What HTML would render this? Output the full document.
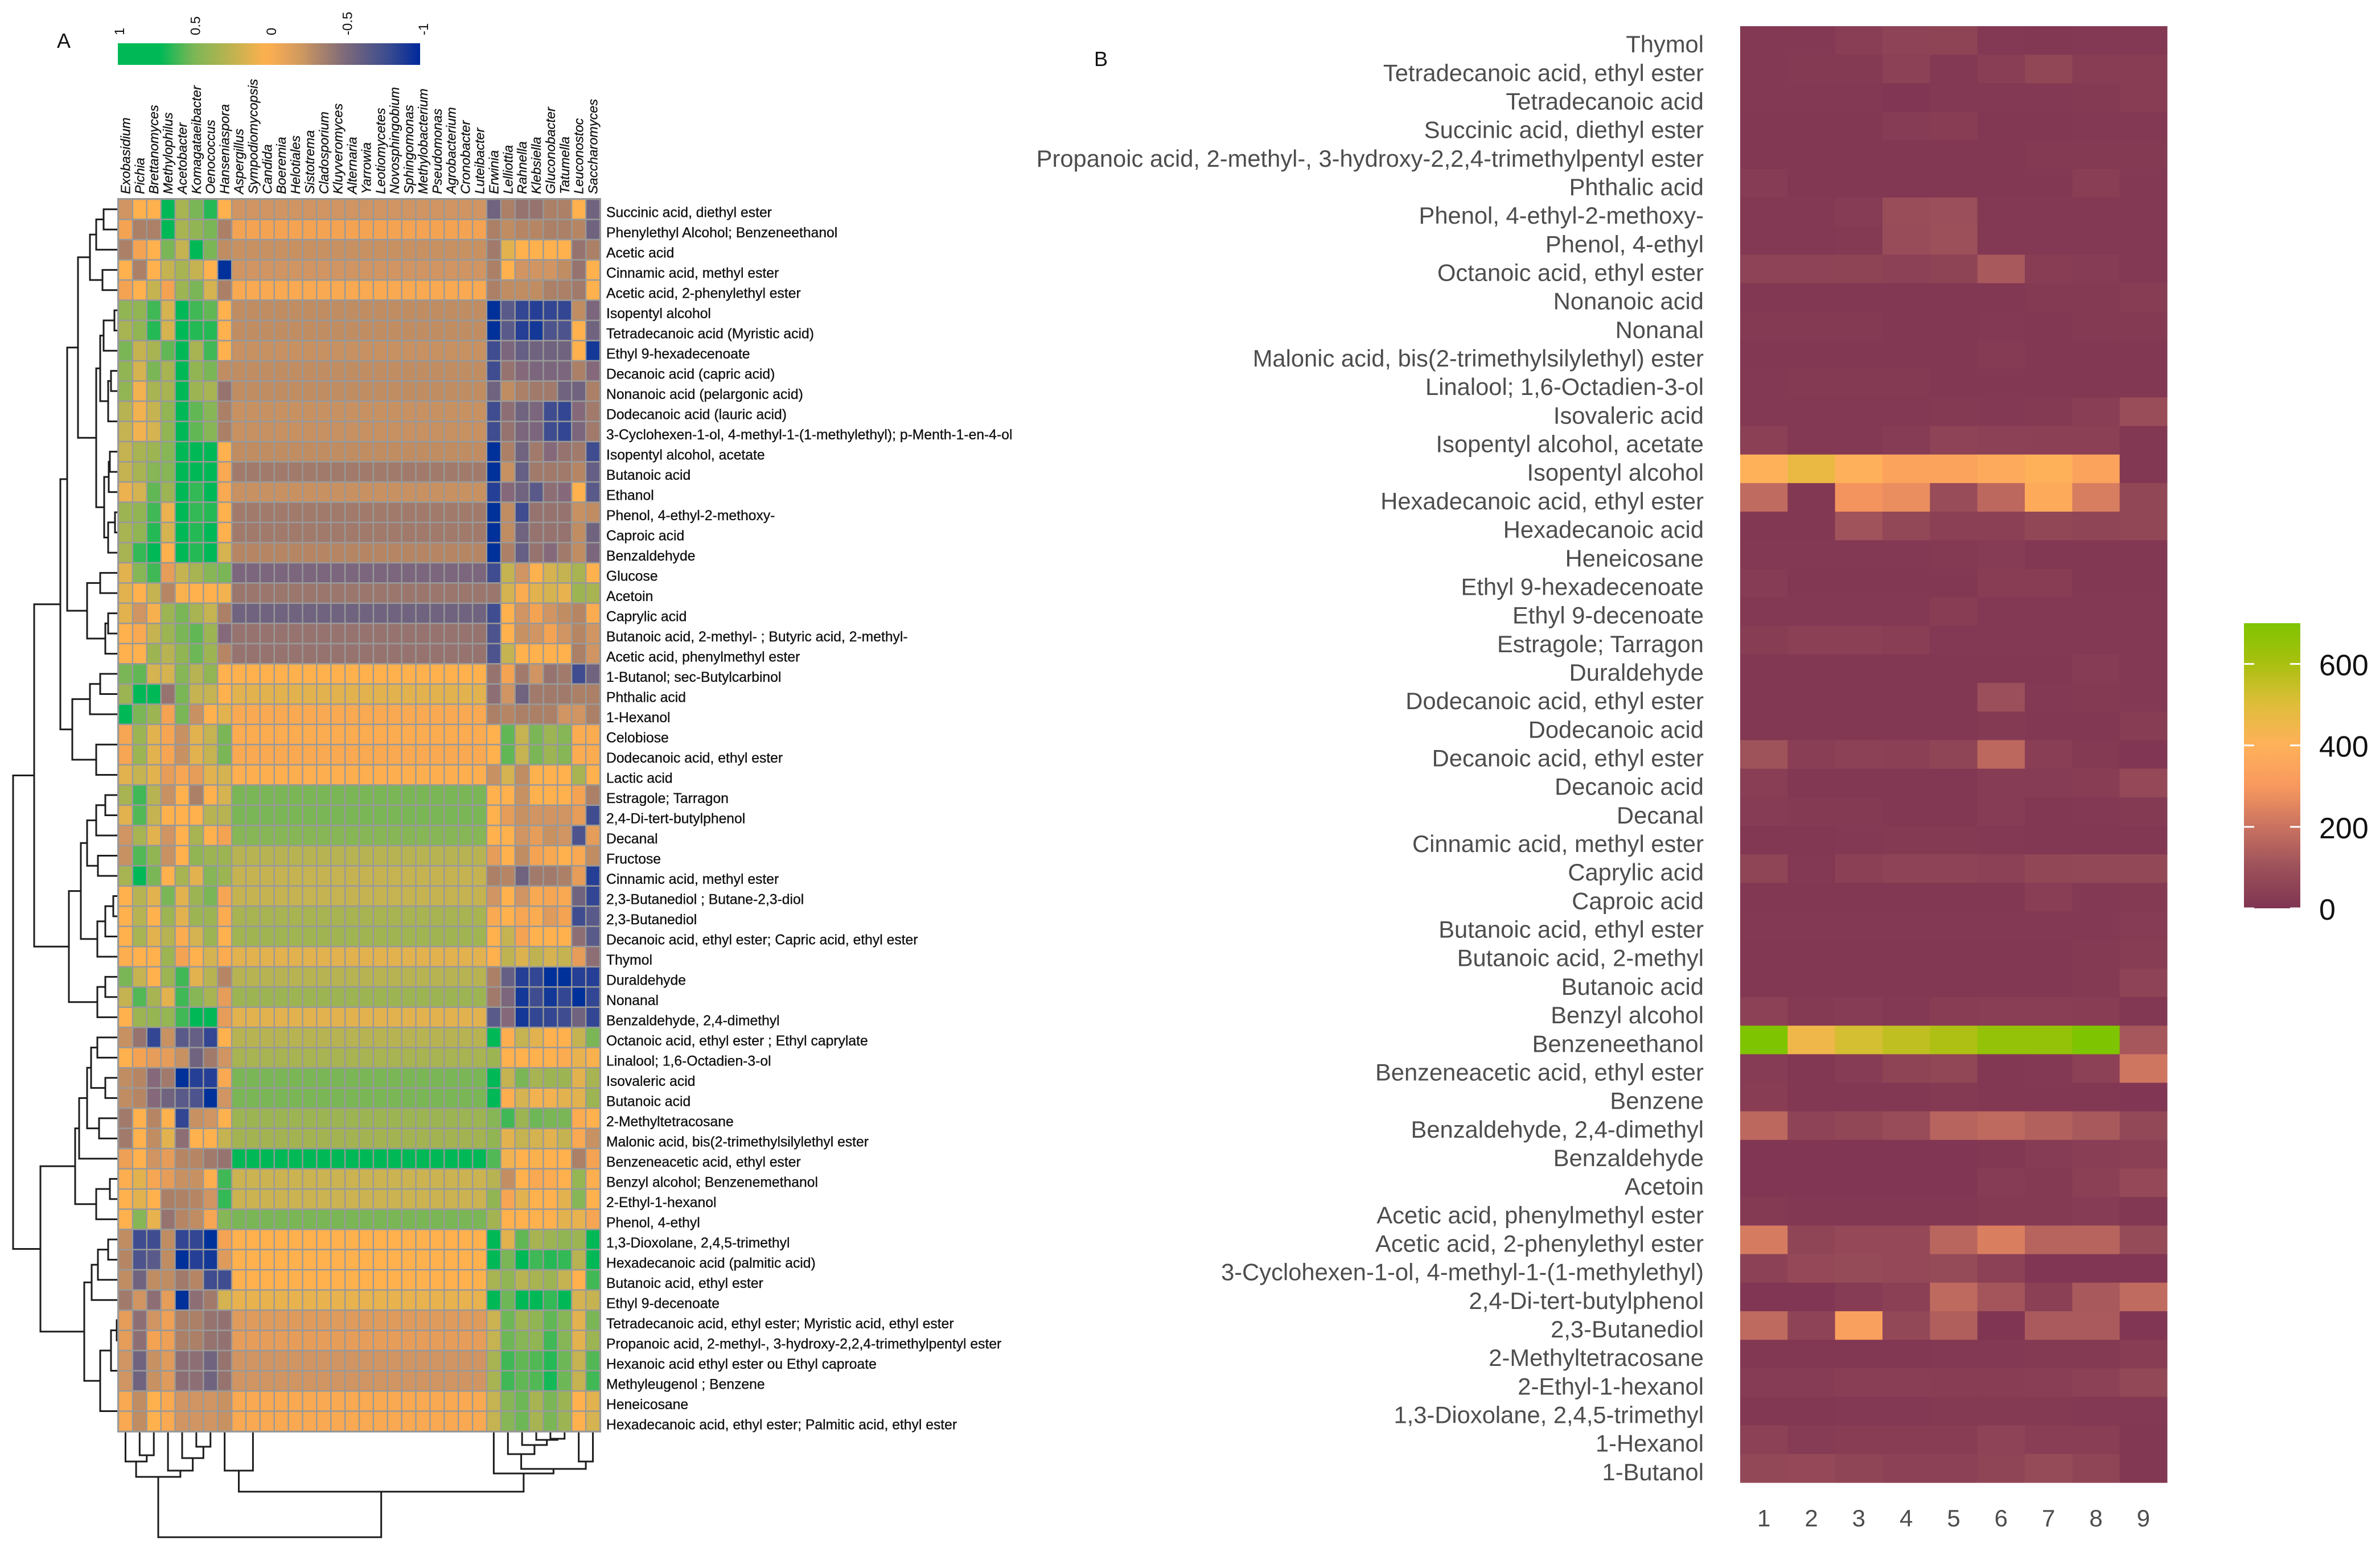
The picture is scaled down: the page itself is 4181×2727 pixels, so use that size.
<!DOCTYPE html>
<html lang="en">
<head>
<meta charset="utf-8">
<title>Correlation heatmap and volatile compound heatmap</title>
<style>
html,body{margin:0;padding:0;background:#fff;}
svg{display:block;font-family:"Liberation Sans",sans-serif;}
</style>
</head>
<body>
<svg id="chart" xmlns="http://www.w3.org/2000/svg" width="4181" height="2727" viewBox="0 0 4181 2727">
<rect x="0" y="0" width="4181" height="2727" fill="#fff"/>
<text x="100" y="84" font-size="36" fill="#111">A</text>
<text x="1922" y="116" font-size="36" fill="#111">B</text>
<g id="panelA"></g>
<g id="panelB"></g>
</svg>
<script>
const colLabelsA = ["Exobasidium","Pichia","Brettanomyces","Methylophilus","Acetobacter","Komagataeibacter","Oenococcus","Hanseniaspora","Aspergillus","Sympodiomycopsis","Candida","Boeremia","Helotiales","Sistotrema","Cladosporium","Kluyveromyces","Alternaria","Yarrowia","Leotiomycetes","Novosphingobium","Sphingomonas","Methylobacterium","Pseudomonas","Agrobacterium","Cronobacter","Luteibacter","Erwinia","Lelliottia","Rahnella","Klebsiella","Gluconobacter","Tatumella","Leuconostoc","Saccharomyces"];
const rowLabelsA = ["Succinic acid, diethyl ester","Phenylethyl Alcohol;  Benzeneethanol","Acetic acid","Cinnamic acid, methyl ester","Acetic acid, 2-phenylethyl ester","Isopentyl alcohol","Tetradecanoic acid (Myristic acid)","Ethyl 9-hexadecenoate","Decanoic acid (capric acid)","Nonanoic acid (pelargonic acid)","Dodecanoic acid (lauric acid)","3-Cyclohexen-1-ol, 4-methyl-1-(1-methylethyl); p-Menth-1-en-4-ol","Isopentyl alcohol, acetate","Butanoic acid","Ethanol","Phenol, 4-ethyl-2-methoxy-","Caproic acid","Benzaldehyde","Glucose","Acetoin","Caprylic acid","Butanoic acid, 2-methyl- ;  Butyric acid, 2-methyl-","Acetic acid, phenylmethyl ester","1-Butanol; sec-Butylcarbinol","Phthalic acid","1-Hexanol","Celobiose","Dodecanoic acid, ethyl ester","Lactic acid","Estragole; Tarragon","2,4-Di-tert-butylphenol","Decanal","Fructose","Cinnamic acid, methyl ester","2,3-Butanediol ; Butane-2,3-diol","2,3-Butanediol","Decanoic acid, ethyl ester; Capric acid, ethyl ester","Thymol","Duraldehyde","Nonanal","Benzaldehyde, 2,4-dimethyl","Octanoic acid, ethyl ester ; Ethyl caprylate","Linalool; 1,6-Octadien-3-ol","Isovaleric acid","Butanoic acid","2-Methyltetracosane","Malonic acid, bis(2-trimethylsilylethyl ester","Benzeneacetic acid, ethyl ester","Benzyl alcohol; Benzenemethanol","2-Ethyl-1-hexanol","Phenol, 4-ethyl","1,3-Dioxolane, 2,4,5-trimethyl","Hexadecanoic acid (palmitic acid)","Butanoic acid, ethyl ester","Ethyl 9-decenoate","Tetradecanoic acid, ethyl ester; Myristic acid, ethyl ester","Propanoic acid, 2-methyl-, 3-hydroxy-2,2,4-trimethylpentyl ester","Hexanoic acid ethyl ester ou Ethyl caproate","Methyleugenol ; Benzene","Heneicosane","Hexadecanoic acid, ethyl ester; Palmitic acid, ethyl ester"];
/* Correlation x10. Each row: 8 left genera, one shared value for the 18 middle genera, 8 right genera. */
const corrA = [
[-1,0,0,9,3,5,8,0,-1,-6,-3,-4,-4,-3,-3,0,-6],
[-.5,-3,-3,9,3,4,5,-3,-.5,-3,-2,-2.5,-2.5,-3,-3,-2.5,-6],
[-3,-.5,0,5,2,9,5,-2,-1.5,-3.5,1,0,0,0,0,-4,-3],
[0,-3,0,2,3,2,0,-10,-1,-3,0,-1,-1,-1,-2,-4,0],
[-.5,0,2,-.5,3.5,5,1.5,-3,-.3,-3,-2,-2,-2,-3,-3,-3.5,0],
[4,4,7,1.5,9,7,6,0,-2,-10,-7,-8.5,-9,-8.5,-8.5,-2,-5.5],
[3,4,8,1.5,9,8,8,0,-2,-10,-7,-9,-9.5,-7.5,-7.5,0,-6],
[5,2,3,6,9,3,7,0,-1.5,-8,-5.5,-6.5,-6,-6,-6,0,-9.5],
[4,1.5,5,3,9,4,5,-2,-2,-8,-4,-5,-5.5,-5.5,-5.5,-3,-5],
[4,.5,3,3,9,3.5,3,-4,-2,-6,-2,-3,-3.5,-3.5,-6,-6,-3],
[2.5,.5,2,4,9,6,4.5,-3,-1.5,-8,-4.5,-6,-5.5,-8,-8.5,-5,-3.5],
[2,.5,1.5,4,9,6,4.5,-3,-1.5,-8,-4,-5.5,-5.5,-8,-8.5,-5.5,-3.5],
[2,3,3.5,4.5,9,9,9,0,-2,-10,-3,-6,-3.5,-5,-4,-3.5,-8],
[2,3,4.5,4.5,9,9,9,-.3,-3.5,-10,-1.5,-6.5,-3.5,-3.5,-3.5,-2.5,-6.5],
[.7,1.5,6,3.5,9,7.5,9,-.3,-1.5,-9,-5,-6,-7,-4.5,-5,0,-7],
[3.5,4,7,.7,9,7.5,8,0,-3.5,-10,-2,-8,-4,-4,-4,-1.5,-2],
[3,4,8,1.5,9,8,9,0,-3.5,-10,-2,-6,-4,-4,-4,-2,-6],
[3,7.5,9,0,9,8,9,1.5,-2.5,-10,-3,-6.5,-4,-5,-3.5,-2,-5.5],
[1,4.5,7,-.7,2,3,4.5,5,-5.5,-8,2,-1,0,1.5,2,3,0],
[1,0,2,-2.5,.2,0,0,.5,-3.8,-3.8,1.5,-.2,1,1.5,.8,3.5,3],
[1,-1,.3,3.5,5,3,2,-3,-6,-8,0,-1,-.5,-1,-2,-2.5,-.2],
[0,-.3,2,3.5,5,6,3.5,-5,-4,-7.5,0,-1.5,-1,-.5,-1,-2.5,-1],
[0,0,3.5,2.5,4,5.5,3.5,-2.5,-4,-7.5,2,0,0,0,0,-3,-1],
[5,6,1.5,1.5,4.5,2.5,4,0,0,-4,-.5,-3.5,-1,-4,-3.5,-8,-6],
[3.5,9,9,-4,5,2,2,0,1,-4.5,-1,-6,-3.5,-3.5,-3.5,-3,-3],
[9,5,3.5,-.5,5,-1.5,0,1,-.3,-3,-2.5,-3,-3,-3,-1,-1,-3],
[-.4,3.5,1,-.4,-1.5,1,2,5,-.2,0,6,2,5,3.5,4.5,-.2,-.2],
[-.4,3.5,1,-.4,-1.5,1,2,5,-.3,0,6,2,5,3.5,4.5,-.2,-.2],
[1,2,1,-.7,-.4,-.7,1,1.5,-.1,-1.5,1.5,-2,0,0,0,3,0],
[3,7,2.5,-1.5,0,-3,0,1.5,5,0,0,-1.5,0,0,0,-.5,-3],
[1,6.5,2,0,0,0,2.5,2.5,5,0,-.7,-1.5,-1,-1,-1,-.7,-8],
[-1,3,1,-1,0,3,0,-.5,4.5,0,0,-1,-.7,-1.5,-1,-7.5,-.7],
[-1.5,6.5,4,-1.5,0,4,3.5,3.5,2.5,-.7,0,-2,-.5,-.3,0,-.3,-2],
[3,9,5,0,3,1,4.5,3.5,2,-3,-2.5,-6,-3.5,-3.5,-3,-.7,-9],
[0,2.5,1,5,1,3.5,5,-.4,2,-1,0,-1,-.3,-.4,-.3,-6,-8.5],
[0,2.5,0,3.5,1,3.5,3.5,-.2,3,-.3,0,-.4,-.2,-.8,-.5,-8,-7],
[0,3,1,2.5,-.2,1.5,3.5,0,3.3,0,2,-.5,0,0,0,-4.5,-7],
[-.1,0,0,3.5,-.5,0,1.5,-.2,1,0,2.2,1.2,2.2,1.5,2,-.7,-4.5],
[5,2,0,3.5,7,1,2.5,-2.5,2.5,-3,-6.5,-9,-8.5,-10,-10,-9,-9],
[2,6.5,3,1,7,4.5,3,-.7,3.5,-3.5,-5.5,-9.5,-8,-9.5,-8.5,-10,-8.5],
[0,3.5,3.8,3.8,7,9,9,-.7,1,-7,-5,-9.5,-8.5,-8.5,-8,-6,-8.5],
[-1.5,-4,-8.5,-1.5,-7,-6.5,-8.5,0,2.5,9,-.1,2,1,0,0,2,5],
[0,-.5,-.7,-.7,-1.5,-6,-3.5,-1,3,3.5,0,0,0,0,-.2,.8,.2],
[-2,-2.5,-5,-3.5,-10,-9,-9,-.3,5,9,2,5,3,3.5,3.5,1,3],
[-2,-2.5,-5,-6,-7,-7.5,-10,-1,5,9,-.1,1.5,.5,.5,1,1,3.5],
[-3.5,0,-2.5,0,-8.5,-1.5,-1,0,3.5,4.5,7,3.5,5.5,5,5,-.2,0],
[-3.5,0,-2,1,-4.5,0,0,2,3.2,4,1,2,1.5,1,2,-.3,-1.5],
[-.6,0,-1,-.7,-2.5,-2.5,-3.5,-4,9,6.5,.5,0,.2,0,0,-3,-.5],
[-.1,1,-.4,-.7,-1.5,-1.5,-.1,7,1.8,2.5,-1.8,0,-.3,-.2,0,3.8,-.1],
[0,1,0,-3,-2.8,-2.5,-1,7.5,1.8,4,-.4,1,0,0,1,4.5,0],
[0,4.5,.8,-4,-2.5,-2,-.4,4.5,5,3.2,0,0,0,0,1,.8,-.4],
[-2,-8,-8,-2,-8.5,-8.5,-10,-.5,0,9,1,6,3,3.5,4,3.5,9],
[-2.5,-7.5,-7,-2,-10,-9,-9.5,-.8,0,9,5,9,7,8,7.5,2.5,9],
[-2,-6,-2,-2,-3.5,-2.5,-8,-8,0,3,4,2.5,3,3.5,2,0,7],
[-3.5,-1,-4.5,-.7,-10,-4.5,-3.5,1.5,.8,9,5.5,9,9,7.5,9,1.5,2],
[-.7,-4.5,-1,-.6,-3,-3,-4,-4.2,-.8,1.8,5.5,3.5,4,6,4.5,1,5],
[-.7,-4.5,-.5,-.6,-3,-3,-4,-4.2,-.7,2,5.5,4.5,4,7,4.5,1,3.5],
[-1,-6,-1.5,-.8,-4.5,-4.5,-6,-4,-1,3,7,6,6.5,8,5.5,2,6.5],
[-1,-6,-1.5,-.8,-4.5,-4.5,-6,-4,-1,3,7,6,6.5,8.5,5.5,2,7],
[-.3,-2,0,-.3,-1,-1,-1,-1.5,-.3,2,4.5,5.5,3,5,3.5,0,1],
[-.3,-2,0,-.3,-1,-1,-1,-1.5,-.3,2,4.5,5.5,3,5,3.5,0,1.5]
];
/* Dendrograms: [height, left, right]; a number is a 1-based leaf index. */
const rowTree = [185,
  [148,
    [102,
      [90,
        [71,
          [50,[39,[26,1,2],3],[28,4,5]],
          [39,[32,[26,[7,6,7],8],[18,[13,9,10],[0,11,12]]],[25,[17,[15,13,14],15],[18,[6,16,17],18]]]
        ],
        [55,[32,19,20],[23,[18,21,22],23]]
      ],
      [81,[50,[32,24,25],26],[39,[0,27,28],29]]
    ],
    [87,
      [66,[55,[39,[23,30,31],32],[36,33,34]],[37,[23,[9,35,36],37],38]],
      [37,[23,39,40],41]
    ]
  ],
  [137,
    [76,[69,[55,[48,[37,42,43],[23,44,45]],[34,46,47]],48],[39,[15,49,50],51]],
    [60,[47,[36,[18,52,53],54],55],[32,[13,[3,56,57],[0,58,59]],[0,60,61]]]
  ]
];
const midColTree = [0,9,[0,10,[0,11,[0,12,[0,13,[0,14,[0,15,[0,16,[0,17,[0,18,[0,19,[0,20,[0,21,[0,22,[0,23,[0,24,[0,25,26]]]]]]]]]]]]]]]]];
const colTree = [186,
  [80,[53,1,[42,2,3]],[69,4,[47,5,[27,6,7]]]],
  [106,[69,8,midColTree],[74,27,[66,[40,28,[24,29,[15,30,[13,31,32]]]],[53,33,34]]]]
];
const legendTicksA = [1,0.5,0,-0.5,-1];

const rowLabelsB = ["Thymol","Tetradecanoic acid, ethyl ester","Tetradecanoic acid","Succinic acid, diethyl ester","Propanoic acid, 2-methyl-, 3-hydroxy-2,2,4-trimethylpentyl ester","Phthalic acid","Phenol, 4-ethyl-2-methoxy-","Phenol, 4-ethyl","Octanoic acid, ethyl ester","Nonanoic acid","Nonanal","Malonic acid, bis(2-trimethylsilylethyl) ester","Linalool; 1,6-Octadien-3-ol","Isovaleric acid","Isopentyl alcohol, acetate","Isopentyl alcohol","Hexadecanoic acid, ethyl ester","Hexadecanoic acid","Heneicosane","Ethyl 9-hexadecenoate","Ethyl 9-decenoate","Estragole; Tarragon","Duraldehyde","Dodecanoic acid, ethyl ester","Dodecanoic acid","Decanoic acid, ethyl ester","Decanoic acid","Decanal","Cinnamic acid, methyl ester","Caprylic acid","Caproic acid","Butanoic acid, ethyl ester","Butanoic acid, 2-methyl","Butanoic acid","Benzyl alcohol","Benzeneethanol","Benzeneacetic acid, ethyl ester","Benzene","Benzaldehyde, 2,4-dimethyl","Benzaldehyde","Acetoin","Acetic acid, phenylmethyl ester","Acetic acid, 2-phenylethyl ester","3-Cyclohexen-1-ol, 4-methyl-1-(1-methylethyl)","2,4-Di-tert-butylphenol","2,3-Butanediol","2-Methyltetracosane","2-Ethyl-1-hexanol","1,3-Dioxolane, 2,4,5-trimethyl","1-Hexanol","1-Butanol"];
const colLabelsB = ["1","2","3","4","5","6","7","8","9"];
const valuesB = [
[15,15,35,50,55,15,10,15,15],
[15,20,20,45,15,35,65,30,30],
[15,15,15,8,15,15,15,20,30],
[12,12,12,25,30,12,12,15,15],
[12,12,12,12,12,12,18,18,18],
[25,12,12,12,12,12,12,35,15],
[15,15,25,90,95,15,15,15,15],
[15,15,20,85,100,15,15,15,15],
[50,50,55,45,55,125,30,25,15],
[10,10,10,10,10,12,18,18,28],
[20,20,20,12,12,15,10,20,20],
[12,12,12,12,12,22,12,12,12],
[15,18,18,18,12,12,12,12,12],
[15,15,15,15,18,15,18,35,90],
[40,15,15,25,50,45,40,40,10],
[400,470,395,345,345,370,400,345,10],
[180,10,290,270,85,170,375,230,65],
[12,12,110,70,40,40,65,60,65],
[15,15,15,15,20,25,10,12,12],
[25,12,12,12,12,30,30,12,12],
[15,15,15,15,30,15,15,15,15],
[28,40,40,35,15,15,15,15,15],
[12,12,12,12,12,12,12,25,15],
[12,12,12,12,12,95,15,20,15],
[12,12,12,12,12,20,12,12,28],
[105,35,45,40,60,170,35,18,8],
[35,10,10,10,10,25,25,30,75],
[25,18,18,12,12,25,12,15,18],
[12,12,15,20,20,15,12,12,12],
[60,15,40,50,50,45,65,70,70],
[12,12,12,12,12,12,35,15,20],
[15,15,15,15,15,15,15,15,25],
[12,12,12,12,12,12,12,18,28],
[12,12,12,12,12,12,12,18,50],
[45,20,25,15,30,35,35,30,10],
[700,450,520,560,590,650,650,700,120],
[25,12,25,55,65,10,15,45,210],
[30,10,10,10,20,10,10,10,8],
[170,50,65,85,160,175,150,125,70],
[8,8,8,8,8,10,25,35,40],
[8,8,8,8,8,25,20,40,75],
[20,10,10,10,10,20,20,25,12],
[225,60,75,75,165,235,160,160,80],
[45,75,80,75,80,45,8,8,8],
[8,8,25,40,175,115,40,125,180],
[175,50,330,70,145,5,130,130,8],
[12,12,12,12,15,15,20,20,30],
[25,25,35,35,30,30,35,45,70],
[12,12,15,15,20,20,20,15,15],
[45,25,30,30,30,50,35,35,12],
[70,75,60,45,45,60,80,60,10]
];
const legendTicksB = [600,400,200,0];

const NS = "http://www.w3.org/2000/svg";
function mk(parent, tag, attrs, text) {
  const el = document.createElementNS(NS, tag);
  for (const k in attrs) el.setAttribute(k, attrs[k]);
  if (text !== undefined) el.textContent = text;
  parent.appendChild(el);
  return el;
}
function hex(c) { return [1,3,5].map(i => parseInt(c.substr(i,2),16)); }
function ramp(stops) {
  return function (v) {
    if (v <= stops[0][0]) return stops[0][1];
    for (let i = 1; i < stops.length; i++) {
      if (v <= stops[i][0]) {
        const a = stops[i-1], b = stops[i], t = (v - a[0]) / (b[0] - a[0]);
        const ca = hex(a[1]), cb = hex(b[1]);
        return "rgb(" + ca.map((x, n) => Math.round(x + (cb[n] - x) * t)).join(",") + ")";
      }
    }
    return stops[stops.length-1][1];
  };
}
const colorA = ramp([[-10,"#00309a"],[-9,"#263f96"],[-8,"#3f4c90"],[-7,"#5a5a8a"],[-6,"#70637f"],[-5,"#85697a"],[-4,"#96736f"],[-3,"#ab8066"],[-2,"#c08c62"],[-1,"#d09562"],[-.5,"#f4a353"],[0,"#ffb14e"],[1,"#e2b24f"],[2,"#c5b351"],[3,"#a8b352"],[4,"#91b553"],[5,"#7ab656"],[6,"#62b755"],[7,"#40b855"],[8,"#25b955"],[9,"#00b956"],[10,"#00b956"]]);
const colorB = ramp([[0,"#7f3552"],[100,"#9c505a"],[200,"#c97260"],[300,"#f8985f"],[400,"#ffb15a"],[500,"#dfbd3a"],[600,"#a9c010"],[700,"#7fc400"]]);
const legendRampA = ramp([[0,"#00b956"],[.14,"#00b956"],[.25,"#7cb655"],[.36,"#b5b350"],[.49,"#ffb04f"],[.6,"#d29a5e"],[.75,"#7e6a7a"],[.9,"#384a90"],[1,"#00289b"]]);

/* ---------- Panel A ---------- */
const gA = document.getElementById("panelA");
const plotA = {x:208, y:350, w:846, h:2165};
const cwA = plotA.w / colLabelsA.length, chA = plotA.h / rowLabelsA.length;
const xA = i => plotA.x + i * cwA;
const yA = j => plotA.y + j * chA;

/* Dendrograms, drawn from tree heights, beneath the heatmap grid */
function layoutTree(node, leafPos, heightPos, horizontal, group) {
  if (typeof node === "number") return {p:leafPos(node), h:0};
  const a = layoutTree(node[1], leafPos, heightPos, horizontal, group);
  const b = layoutTree(node[2], leafPos, heightPos, horizontal, group);
  const H = heightPos(node[0]), A = heightPos(a.h), B = heightPos(b.h);
  const d = horizontal
    ? "M"+A+" "+a.p+"H"+H+"V"+b.p+"H"+B
    : "M"+a.p+" "+A+"V"+H+"H"+b.p+"V"+B;
  const link = mk(group, "path", {d:d, fill:"none", stroke:"#1c1c1c", "stroke-width":3});
  
  
  return {p:(a.p+b.p)/2, h:node[0]};
}
const gRowTree = mk(gA, "g", {});


layoutTree(rowTree, n => yA(n-1)+chA/2, h => plotA.x - h, true, gRowTree);
const gColTree = mk(gA, "g", {});


layoutTree(colTree, n => xA(n-1)+cwA/2, h => plotA.y + plotA.h + h, false, gColTree);

const gridBg = mk(gA, "rect", {x:plotA.x-2, y:plotA.y-2, width:plotA.w+4, height:plotA.h+4, fill:"#999"});



corrA.forEach((row, j) => {
  const full = row.slice(0,8).concat(Array(18).fill(row[8]), row.slice(9));
  full.forEach((v, i) => {
    const c = mk(gA, "rect", {x:xA(i)+1.2, y:yA(j)+1.3, width:cwA-2.4, height:chA-2.6, fill:colorA(v)});
    
    
  });
  const t = mk(gA, "text", {x:1065, y:yA(j)+chA/2+14, "font-size":24.7, fill:"#111", stroke:"#111", "stroke-width":0.35}, rowLabelsA[j]);
  
  
});
colLabelsA.forEach((name, i) => {
  const cx = xA(i) + cwA/2 + 8;
  const t = mk(gA, "text", {x:cx, y:341, "font-size":23.5, "font-style":"italic", fill:"#111", stroke:"#111", "stroke-width":0.3, transform:"rotate(-90 "+cx+" 341)"}, name);
  
  
});

/* Legend A */
const defs = mk(document.getElementById("chart"), "defs", {});
const gradA = mk(defs, "linearGradient", {id:"gradA", x1:0, y1:0, x2:1, y2:0});
for (let k = 0; k <= 50; k++) {
  mk(gradA, "stop", {offset:k/50, "stop-color":legendRampA(k/50)});
}
const lgA = {x:207, y:76, w:531, h:38};
const barA = mk(gA, "rect", {x:lgA.x, y:lgA.y, width:lgA.w, height:lgA.h, fill:"url(#gradA)"});


legendTicksA.forEach(v => {
  const px = lgA.x + 3 + (1 - v)/2 * (lgA.w + 3) + 8;
  const t = mk(gA, "text", {x:px, y:62, "font-size":24, fill:"#111", transform:"rotate(-90 "+px+" 62)"}, String(v));
  
  
});

/* ---------- Panel B ---------- */
const gB = document.getElementById("panelB");
const plotB = {x:3057, y:46, w:750, h:2559};
const cwB = plotB.w / colLabelsB.length, chB = plotB.h / rowLabelsB.length;
const xB = i => plotB.x + i * cwB;
const yB = j => plotB.y + j * chB;
valuesB.forEach((row, j) => {
  row.forEach((v, i) => {
    const c = mk(gB, "rect", {x:xB(i), y:yB(j), width:cwB+.5, height:chB+.5, fill:colorB(v)});
    
    
  });
  const t = mk(gB, "text", {x:2993, y:yB(j)+chB/2+21, "font-size":41.7, "text-anchor":"end", fill:"#4d4d4d"}, rowLabelsB[j]);
  
  
});
colLabelsB.forEach((name, i) => {
  const t = mk(gB, "text", {x:xB(i)+cwB/2, y:2682, "font-size":42, "text-anchor":"middle", fill:"#4d4d4d"}, name);
  
  
});

/* Legend B */
const lgB = {x:3942, w:99, top:1095, bottom:1596, max:700};
const yLegB = v => lgB.bottom - (v / lgB.max) * (lgB.bottom - lgB.top);
const gradB = mk(defs, "linearGradient", {id:"gradB", x1:0, y1:1, x2:0, y2:0});
for (let k = 0; k <= 28; k++) {
  mk(gradB, "stop", {offset:k/28, "stop-color":colorB(700*k/28)});
}
const barB = mk(gB, "rect", {x:lgB.x, y:lgB.top, width:lgB.w, height:lgB.bottom-lgB.top, fill:"url(#gradB)"});


legendTicksB.forEach(v => {
  const y = yLegB(v);
  const l1 = mk(gB, "rect", {x:lgB.x, y:y-1.5, width:18, height:3, fill:"#fff"});
  
  
  const l2 = mk(gB, "rect", {x:lgB.x+lgB.w-18, y:y-1.5, width:18, height:3, fill:"#fff"});
  
  
  const t = mk(gB, "text", {x:4074, y:y+20, "font-size":52, fill:"#111"}, String(v));
  
  
});
</script>
</body>
</html>
